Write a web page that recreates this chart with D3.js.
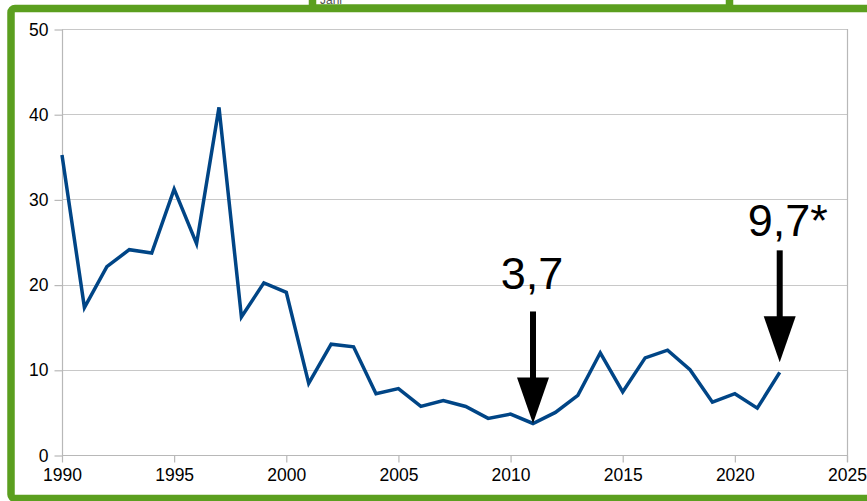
<!DOCTYPE html>
<html>
<head>
<meta charset="utf-8">
<script src="https://cdn.jsdelivr.net/npm/d3@7"></script>
<style>
  body { margin: 0; background: #fff; }
  svg { display: block; font-family: "Liberation Sans", Arial, sans-serif; }
</style>
</head>
<body>
<svg id="chart" width="867" height="501"></svg>
<script>
// yearly values
var years = d3.range(1990, 2023);
var values = [35.2, 17.3, 22.1, 24.1, 23.7, 31.2, 24.8, 40.8, 16.2, 20.2,
              19.1, 8.4, 13.0, 12.7, 7.2, 7.8, 5.7, 6.4, 5.7, 4.3,
              4.8, 3.7, 5.0, 7.0, 12.0, 7.4, 11.4, 12.3, 10.0, 6.2,
              7.2, 5.5, 9.7];
var xTicks = [1990, 1995, 2000, 2005, 2010, 2015, 2020, 2025];
var yTicks = [0, 10, 20, 30, 40, 50];
// callouts
var noteYears = [2011, 2022];
var noteValues = [3.7, 9.7];
var noteLabels = ["3,7", "9,7*"];

var svg = d3.select("#chart");
var green = "#5b9f1f";
// plot box (don't call it "top", that's window.top)
var plotL = 62, plotR = 847, plotT = 29, plotB = 455;

var x = d3.scaleLinear().domain([1990, 2025]).range([plotL, plotR]);
var y = d3.scaleLinear().domain([0, 50]).range([plotB, plotT]);

// frame
svg.append("rect").attr("x", 11).attr("y", 8.5).attr("width", 900).attr("height", 490)
    .attr("rx", 4).attr("fill", "#fff").attr("stroke", green).attr("stroke-width", 7.5);

// piece of the box above, cut off by the page edge
var clip = svg.append("clipPath").attr("id", "topclip");
clip.append("rect").attr("x", 316).attr("y", 0).attr("width", 409).attr("height", 5);
svg.append("rect").attr("x", 312.5).attr("y", -30).attr("width", 417).attr("height", 38)
    .attr("fill", "#fff").attr("stroke", green).attr("stroke-width", 7.5);
svg.append("rect").attr("x", 309).attr("y", 5).attr("width", 425).attr("height", 7).attr("fill", green);
svg.append("text").attr("x", 320).attr("y", 4).attr("clip-path", "url(#topclip)")
    .attr("font-size", 12).attr("fill", "#555").text("Jahr");

// grid
svg.append("g").selectAll("line").data(yTicks).join("line")
    .attr("x1", plotL).attr("x2", plotR)
    .attr("y1", d => Math.round(y(d)) + 0.5).attr("y2", d => Math.round(y(d)) + 0.5)
    .attr("stroke", "#c8c8c8").attr("stroke-width", 1.2);

// axes
var yAxis = svg.append("g").attr("transform", "translate(" + (plotL + 0.5) + ",0.5)")
    .call(d3.axisLeft(y).tickValues(yTicks).tickSize(8).tickPadding(6).tickFormat(d3.format("d")));
var xAxis = svg.append("g").attr("transform", "translate(0," + (plotB + 0.5) + ")")
    .call(d3.axisBottom(x).tickValues(xTicks).tickSize(7).tickPadding(6).tickFormat(d3.format("d")));
[yAxis, xAxis].forEach(function (a) {
    a.selectAll("path, line").attr("stroke", "#b8b8b8").attr("stroke-width", 1.2);
    a.selectAll("text").attr("fill", "#000").attr("font-size", 17.5)
        .attr("font-family", "Liberation Sans, Arial, sans-serif");
});
yAxis.select(".domain").attr("d", "M0," + y(0) + "V" + y(50));
xAxis.select(".domain").attr("d", "M" + plotL + ",0H" + plotR);
// right edge of plot
svg.append("line").attr("x1", plotR + 0.5).attr("x2", plotR + 0.5).attr("y1", plotT).attr("y2", plotB + 7)
    .attr("stroke", "#b8b8b8").attr("stroke-width", 1.2);

// series
var line = d3.line().x((d, i) => x(years[i])).y(d => y(d));
svg.append("path").datum(values).attr("d", line)
    .attr("fill", "none").attr("stroke", "#004586").attr("stroke-width", 3.5)
    .attr("stroke-linejoin", "miter");

// arrows with labels
var shaftLen = 66, headLen = 46;
var gap = [0, 10];        // tip distance above the point
var labelDx = [-1, 8];
var labelGap = [22, 14];  // baseline above shaft top
noteYears.forEach(function (yr, i) {
    var cx = x(yr);
    var tip = y(noteValues[i]) - gap[i];
    var headTop = tip - headLen;
    var shaftTop = headTop - shaftLen;
    svg.append("rect").attr("x", cx - 3).attr("y", shaftTop).attr("width", 6).attr("height", shaftLen + 1)
        .attr("fill", "#000");
    svg.append("path").attr("d", "M" + (cx - 16) + "," + headTop + "L" + (cx + 16) + "," + headTop + "L" + cx + "," + tip + "Z")
        .attr("fill", "#000");
    svg.append("text").attr("x", cx + labelDx[i]).attr("y", shaftTop - labelGap[i]).attr("text-anchor", "middle")
        .attr("font-size", 45).attr("fill", "#000").text(noteLabels[i]);
});
</script>
</body>
</html>
